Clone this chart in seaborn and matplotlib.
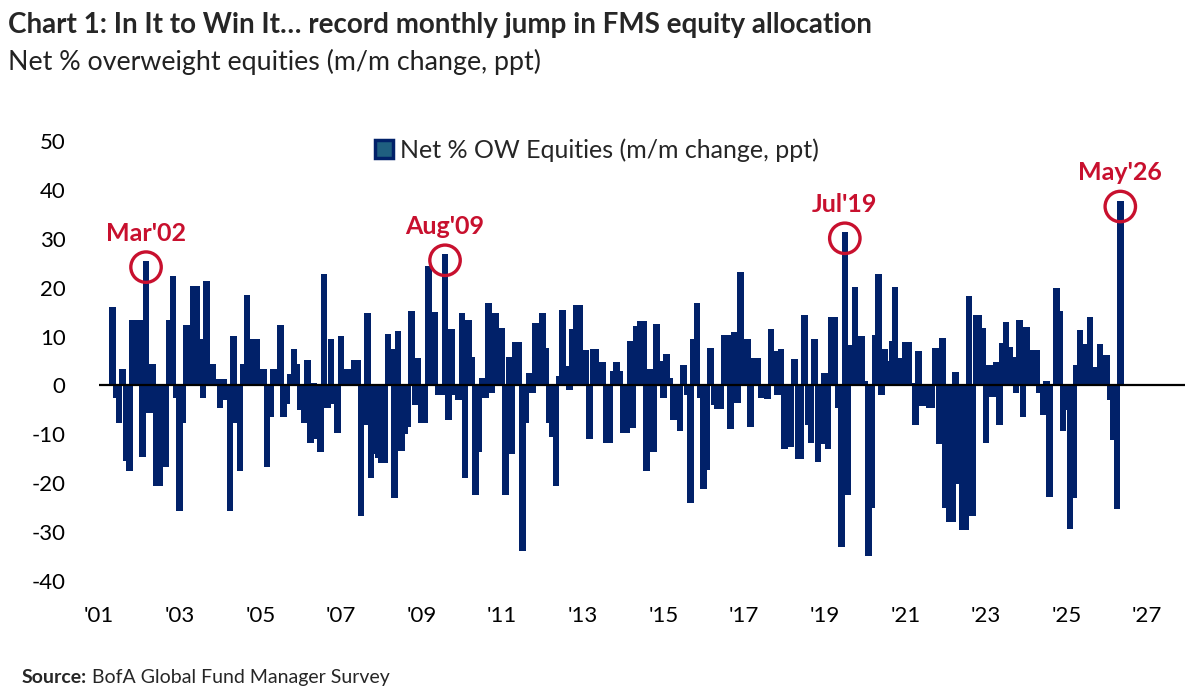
import numpy as np
import pandas as pd
import matplotlib
matplotlib.use('Agg')
import matplotlib.pyplot as plt
from matplotlib.patches import Patch
import seaborn as sns

# Monthly change in net % overweight equities (ppt)
# series starts May 2001
v2001 = [16, -2.5, -7.6, 3.4, -15.5, -17.5, 13.4, 13.4]
v2002 = [13.4, -14.6, 25.4, -5.6, 4.3, -20.6, -20.6, -11.7, -16.6, 13.4, 22.4, -2.5]
v2003 = [-25.7, -7.6, 12.3, 12.3, 20.4, 20.4, 9.4, -2.5, 21.3, 4.3, 4.3, 1.4]
v2004 = [-4.6, 1.4, -3, -25.7, 10.2, -7.6, -17.5, 4.3, 18.4, 7.4, 9.4, 9.4]
v2005 = [3.4, 3.4, -16.6, -6.5, 3.4, 2, 12.3, -6.5, -3.7, 2.3, 7.4, 4.3]
v2006 = [-5, -7.6, 5.3, -11.7, 0.5, -11, -13.7, 22.8, -4.6, 9.4, -3.7, -9.7]
v2007 = [10.2, 3.4, 3.4, 3.4, 5.3, 5.3, -26.8, -8, 14.9, -19, -14, -14.8]
v2008 = [-15.8, -15.8, 10.6, 7.4, -23, 11.2, -13.4, -10, -8.5, 15.2, -4, 5.7]
v2009 = [-7.6, -7.6, 24.5, 15, 15, -2, -2, 26.8, -7, 11.6, -2, -3]
v2010 = [14.9, -19, 13.4, 5.9, -22.4, -13.6, 1.5, -2.5, 16.8, -1.5, 14.9, 11.8]
v2011 = [11.8, -22.4, 5.9, -14, 8.9, 8.9, -33.8, -7.6, 2.6, -1.5, 12.8, 12.8]
v2012 = [14.9, 7.7, -7.6, -10.5, -20.6, 2, 15.5, 4, -1, 11.6, 16.4, 16.4]
v2013 = [7.2, 7.2, -11, 7.4, 7.4, 4.7, 4.7, -11.7, -11.7, 3, 4.7, 2.9]
v2014 = [-9.7, -9.7, 9, -8.7, 12.1, 13.2, 13.2, -17.6, 3.4, -13.6, 12.6, 5]
v2015 = [-2.5, 6.5, 1.5, -7, -5, -9.4, 4.1, -2, -24, 9.6, 16.9, -2.5]
v2016 = [-21.2, -17.3, 7.7, -4, -4.8, -4.8, 10.4, 10.4, -9, 10.9, -3.5, 23.3]
v2017 = [8.4, 9.4, -8.5, 5.7, 5.7, -2.6, -2.6, -2.7, 11.6, 7, -2, 7.5]
v2018 = [-12.9, -10, -12.5, 5.5, -15, -15, 14.4, -8, -11.8, 9.5, -15.7, -12]
v2019 = [2.5, -12.9, 14, 14, -4.6, -33, 31.3, -22.5, 8.3, 20.2, 8, 10.2]
v2020 = [1, -34.8, -25, 10.4, 22.7, -2, 7.4, 5, 9, 20.2, 5.6, 5.6]
v2021 = [8.9, 8.9, 0.6, -8, 7, -4.2, -4.2, -4.6, -4.6, 7.7, -11.9, 9.7]
v2022 = [-25, -28, -28, 2.7, -20.2, -29.5, -29.5, 18.3, -26.8, 14.5, 14.5, 11.8]
v2023 = [-11.8, 4.1, -2.3, 4.8, -8, 8.6, 13, 7.8, 5.9, -1.5, 13.3, -6.5]
v2024 = [12, 7.2, 7.2, 7.2, -1.6, -6, 1, -22.8, 0.3, 19.9, 15.2, -9.3]
v2025 = [-5, -29.4, -23, 4.1, 11.4, 8.5, 8.5, 14, 3.8, 3.8, 8.5, 6.3]
v2026 = [6.3, -3, -11.1, -25.2, 37.8]

start_year, start_month = 2001, 5
highlights = ["Mar'02", "Aug'09", "Jul'19", "May'26"]
series_label = 'Net % OW Equities (m/m change, ppt)'
year_ticks = list(range(2001, 2028, 2))
y_ticks = list(range(-40, 51, 10))

values = (v2001 + v2002 + v2003 + v2004 + v2005 + v2006 + v2007 + v2008 + v2009
          + v2010 + v2011 + v2012 + v2013 + v2014 + v2015 + v2016 + v2017 + v2018
          + v2019 + v2020 + v2021 + v2022 + v2023 + v2024 + v2025 + v2026)
dates = pd.date_range(f'{start_year}-{start_month:02d}-01', periods=len(values), freq='MS')
df = pd.DataFrame({
    'date': dates,
    'x': dates.year + (dates.month - 1) / 12,
    'value': values,
})
df['label'] = df['date'].dt.strftime("%b'%y")

navy = '#012169'
red = '#C8102E'

sns.set_theme(style='white')
plt.rcParams['font.family'] = ['Lato', 'DejaVu Sans']
plt.rcParams['axes.unicode_minus'] = False

W, H = 1187, 695
fig = plt.figure(figsize=(W / 100, H / 100), dpi=100)
ax = fig.add_axes([99 / W, 1 - 581 / H, (1185 - 99) / W, 440 / H])

sns.barplot(data=df, x='x', y='value', native_scale=True, width=1.95,
            color=navy, saturation=1, linewidth=0, errorbar=None, ax=ax)

ax.axhline(0, color='black', linewidth=1.6, zorder=3)

# highlighted months
hl = df[df['label'].isin(highlights)]
ax.scatter(hl['x'], hl['value'] - 1.2, s=480, facecolors='none',
           edgecolors=red, linewidths=2.4, zorder=4)
for _, r in hl.iterrows():
    ax.annotate(r['label'], (r['x'], r['value'] - 1.2), xytext=(0, 34),
                textcoords='offset pixels', ha='center', va='center',
                color=red, fontsize=18, fontweight='bold')

px_per_year = 40.5
ax.set_xlim(2001 + 5 / px_per_year, 2001 + 1091 / px_per_year)
ax.set_ylim(-40, 50)
ax.set_xticks(year_ticks)
ax.set_xticklabels([f"'{y % 100:02d}" for y in year_ticks])
ax.set_yticks(y_ticks)
ax.set_xlabel('')
ax.set_ylabel('')
ax.tick_params(axis='both', length=0, labelsize=16, colors='black')
ax.tick_params(axis='y', pad=24)
ax.tick_params(axis='x', pad=18)
for s in ax.spines.values():
    s.set_visible(False)

handle = Patch(facecolor='#1f5f80', edgecolor=navy, linewidth=2.5, label=series_label)
ax.legend(handles=[handle], loc='center', bbox_to_anchor=(597 / W, 1 - 150 / H),
          bbox_transform=fig.transFigure, frameon=False, fontsize=18,
          handlelength=0.7, handleheight=0.7, handletextpad=0.3)

fig.text(8 / W, 1 - 33 / H, 'Chart 1: In It to Win It\u2026 record monthly jump in FMS equity allocation',
         fontsize=20, fontweight='bold', va='baseline')
fig.text(8 / W, 1 - 70 / H, 'Net % overweight equities (m/m change, ppt)',
         fontsize=19.3, color='#222222', va='baseline')
src = fig.text(22 / W, 1 - 683 / H, 'Source:', fontsize=14, fontweight='bold', va='baseline')
fig.canvas.draw()
bb = src.get_window_extent()
fig.text(bb.x1 / W, 1 - 683 / H, ' BofA Global Fund Manager Survey', fontsize=14, va='baseline')

fig.savefig('out.png', dpi=100)
